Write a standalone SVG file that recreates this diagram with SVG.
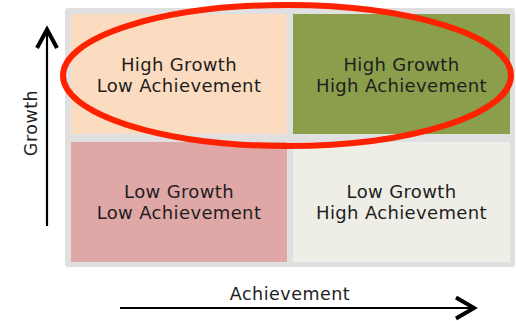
<svg xmlns="http://www.w3.org/2000/svg" width="516" height="321" viewBox="0 0 516 321">
  <style>
    .lbl { font-family: "DejaVu Sans", "Liberation Sans", sans-serif; font-size: 18px; letter-spacing: 0.35px; fill: #1e1e1e; text-anchor: middle; }
    .axis { font-family: "DejaVu Sans", "Liberation Sans", sans-serif; font-size: 17.5px; letter-spacing: 0.5px; fill: #1e1e1e; text-anchor: middle; }
    .line { stroke: #000; stroke-width: 2.2; fill: none; }
    .head { stroke: #000; stroke-width: 4; fill: none; stroke-linejoin: miter; stroke-linecap: butt; }
  </style>
  <rect x="0" y="0" width="516" height="321" fill="#ffffff"/>
  <rect id="background" x="65" y="8" width="450" height="259" rx="3" fill="#e0e0e0"/>
  <g id="node-high-growth-low-ach">
    <rect x="71" y="14" width="216" height="120" fill="#fcdcc0"/>
    <text class="lbl" x="179" y="71">High Growth</text>
    <text class="lbl" x="179" y="92">Low Achievement</text>
  </g>
  <g id="node-high-growth-high-ach">
    <rect x="293" y="14" width="217" height="120" fill="#8a9e4c"/>
    <text class="lbl" x="401.5" y="71">High Growth</text>
    <text class="lbl" x="401.5" y="92">High Achievement</text>
  </g>
  <g id="node-low-growth-low-ach">
    <rect x="71" y="142" width="216" height="120" fill="#e0a7a7"/>
    <text class="lbl" x="179" y="198">Low Growth</text>
    <text class="lbl" x="179" y="219">Low Achievement</text>
  </g>
  <g id="node-low-growth-high-ach">
    <rect x="293" y="142" width="217" height="120" fill="#efeee6"/>
    <text class="lbl" x="401.5" y="198">Low Growth</text>
    <text class="lbl" x="401.5" y="219">High Achievement</text>
  </g>
  <g id="highlight">
    <ellipse cx="287" cy="75.5" rx="224" ry="70.5" fill="none" stroke="#ff2200" stroke-width="6"/>
  </g>
  <g id="connectors">
    <line class="line" x1="47" y1="226" x2="47" y2="30"/>
    <polyline class="head" points="37,48 47,29.5 57,48"/>
    <line class="line" x1="120" y1="308" x2="473" y2="308"/>
    <polyline class="head" points="456,297.5 474,308 456,318.5"/>
  </g>
  <text class="axis" x="0" y="0" transform="translate(37,123) rotate(-90)">Growth</text>
  <text class="axis" x="290" y="300">Achievement</text>
</svg>
